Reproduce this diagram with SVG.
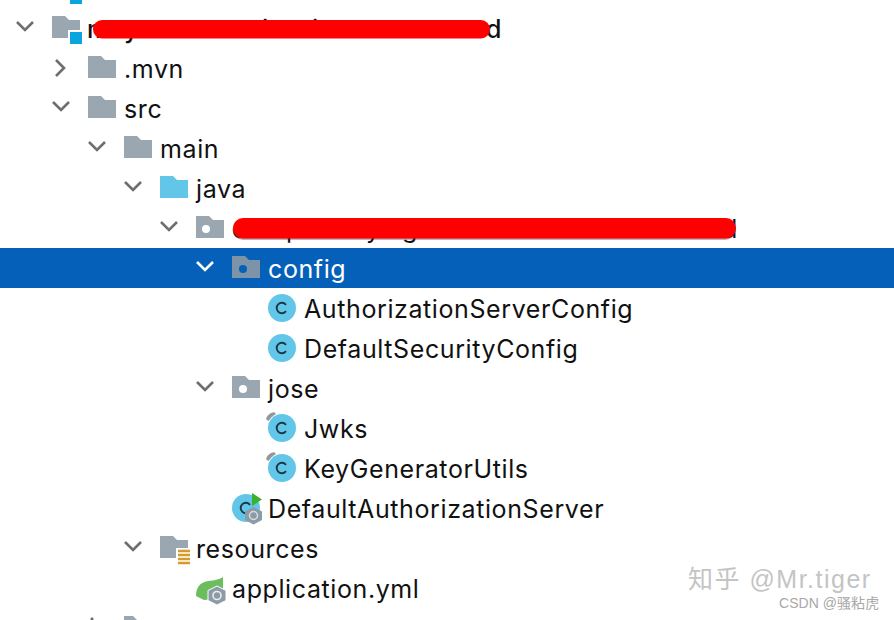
<svg xmlns="http://www.w3.org/2000/svg" width="894" height="620" viewBox="0 0 894 620">
<style>
.t{font-family:"Inter","Liberation Sans",sans-serif;font-size:25px;fill:#111;letter-spacing:.6px}
.w{fill:#fff}
.ch{fill:none;stroke:#6e6e6e;stroke-width:2.6}
.f{fill:#9aa7b0}
.b{fill:#62c6e8}
.r{fill:#f00}
.pin{fill:#8f979f}
</style>
<defs>
<path id="folder" d="M0 0H13L17 4H28V22H0Z"/>
<g id="cls"><circle cx="14" cy="14" r="14" fill="#62c6e8"/><path d="M18 10.8A5.2 5.2 0 1 0 18 17.2" fill="none" stroke="#1c3644" stroke-width="1.9"/></g>
</defs>
<rect width="894" height="620" fill="#fff"/>
<rect y="248" width="894" height="40" fill="#0460b8"/>
<g id="connectors">
<path class="ch" d="M17 22l8 8 8-8"/>
<path class="ch" d="M56 60l8 8-8 8"/>
<path class="ch" d="M53 102l8 8 8-8"/>
<path class="ch" d="M89 142l8 8 8-8"/>
<path class="ch" d="M125 182l8 8 8-8"/>
<path class="ch" d="M161 222l8 8 8-8"/>
<path class="ch" d="M197 262l8 8 8-8" style="stroke:#fff"/>
<path class="ch" d="M197 382l8 8 8-8"/>
<path class="ch" d="M125 542l8 8 8-8"/>
</g>
<g id="node-top"><rect x="70" y="-6" width="12" height="10" fill="#0aa5dc"/></g>
<g id="node-root"><use href="#folder" x="52" y="16" class="f"/><rect x="68" y="30" width="16" height="16" fill="#fff"/><rect x="70" y="32" width="12" height="12" fill="#0aa5dc"/><text class="t" x="87 124 216 262 312 486" y="38" style="font-weight:500">mytiid</text><rect x="93" y="20" width="397" height="18.5" rx="9" class="r"/></g>
<g id="node-mvn"><use href="#folder" x="88" y="56" class="f"/><text class="t" x="124" y="78">.mvn</text></g>
<g id="node-src"><use href="#folder" x="88" y="96" class="f"/><text class="t" x="124" y="118">src</text></g>
<g id="node-main"><use href="#folder" x="124" y="136" class="f"/><text class="t" x="160" y="158">main</text></g>
<g id="node-java"><use href="#folder" x="160" y="176" class="b"/><text class="t" x="196" y="198">java</text></g>
<g id="node-pkg"><use href="#folder" x="196" y="216" class="f"/><circle cx="206" cy="229" r="4" fill="#fff"/><text class="t" x="232 286 366 402 722" y="238">cpygd</text><rect x="233" y="218.500" width="503" height="20.500" rx="10" fill="#5a2020" opacity=".45" transform="translate(-.5 .8)"/><rect x="233" y="218" width="503" height="20.500" rx="10" class="r"/></g>
<g id="node-config"><use href="#folder" x="232" y="256" fill="#7d93a8"/><circle cx="243" cy="269" r="4" fill="#0460b8"/><text class="t w" x="268" y="278">config</text></g>
<g id="node-asc"><use href="#cls" x="268" y="294"/><text class="t" x="304" y="318">AuthorizationServerConfig</text></g>
<g id="node-dsc"><use href="#cls" x="268" y="334"/><text class="t" x="304" y="358">DefaultSecurityConfig</text></g>
<g id="node-jose"><use href="#folder" x="232" y="376" class="f"/><circle cx="243" cy="389" r="4" fill="#fff"/><text class="t" x="268" y="398">jose</text></g>
<g id="node-jwks"><ellipse cx="271" cy="416.500" rx="5.500" ry="3" transform="rotate(-38 271 416.500)" class="pin"/><circle cx="282" cy="428" r="15" fill="#fff"/><use href="#cls" x="268" y="414"/><text class="t" x="304" y="438">Jwks</text></g>
<g id="node-kgu"><ellipse cx="271" cy="456.500" rx="5.500" ry="3" transform="rotate(-38 271 456.500)" class="pin"/><circle cx="282" cy="468" r="15" fill="#fff"/><use href="#cls" x="268" y="454"/><text class="t" x="304" y="478">KeyGeneratorUtils</text></g>
<g id="node-das"><use href="#cls" x="232" y="494"/><path d="M252 493L262 499.500L252 506Z" fill="#3cb02f"/><path d="M253.500 507L262 511.500V520L253.500 524.500L245 520V511.500Z" fill="#8c9ba6"/><circle cx="253.500" cy="515.500" r="4" fill="none" stroke="#d5dde3" stroke-width="1.500"/><text class="t" x="268" y="518">DefaultAuthorizationServer</text></g>
<g id="node-res"><use href="#folder" x="160" y="536" class="f"/><rect x="176" y="548" width="15" height="17" fill="#fff"/><path d="M178 551H190M178 555H190M178 559H190M178 563H190" stroke="#d49a2a" stroke-width="2.400"/><text class="t" x="196" y="558">resources</text></g>
<g id="node-yml"><path d="M196 596Q196 583 208 581Q219 580 223 577L223 592Q214 600 204 600Z" fill="#6cbd5e"/><path d="M217 586L226 590.500V600.500L217 605L208 600.500V590.500Z" fill="#8c9ba6" stroke="#fff"/><circle cx="217" cy="595.500" r="4" fill="none" stroke="#e8edf0" stroke-width="1.600"/><text class="t" x="232" y="598">application.yml</text></g>
<g id="node-bottom"><path d="M124 620V616H133L137 620Z" class="f"/><path d="M91 620L93 618" class="ch"/></g>
<g id="watermark">
<text x="688" y="588" style="font-family:'Liberation Sans','Noto Sans CJK SC',sans-serif;font-size:25px;fill:#c4c4c4;letter-spacing:1.5px" xml:space="preserve">知乎 @Mr.tiger</text>
<text x="779" y="608" style="font-family:'Liberation Sans','Noto Sans CJK SC',sans-serif;font-size:14px;fill:#a8a8a8;letter-spacing:.05px">CSDN @骚粘虎</text>
</g>
</svg>
